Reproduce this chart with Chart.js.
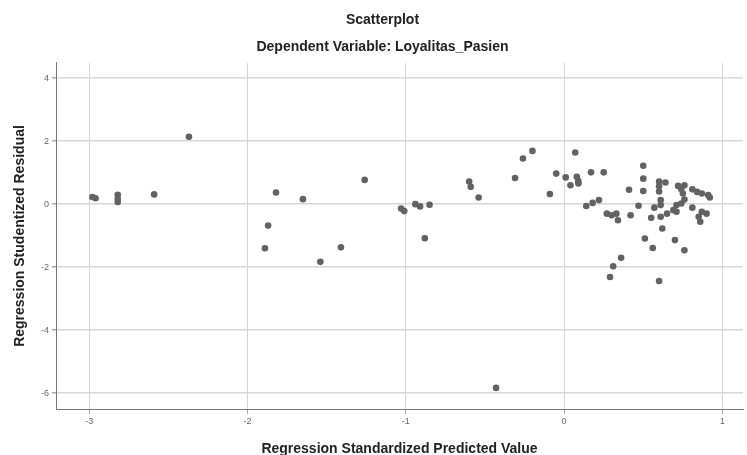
<!DOCTYPE html>
<html lang="id">
<head>
    <meta charset="UTF-8">
    <title>Scatterplot - Loyalitas_Pasien</title>
    <script src="https://cdn.jsdelivr.net/npm/chart.js"></script>
    <style>
        html, body { margin: 0; padding: 0; background: #fff; }
        #scatterChart { display: block; }
    </style>
</head>
<body>
    <canvas id="scatterChart" width="747" height="455"></canvas>

    <script>
    // Data (SPSS)
    const predictedValue = [
        -2.98, -2.96, -2.82, -2.82, -2.82, -2.59, -2.37, -1.82, -1.65, -1.87,
        -1.89, -1.41, -1.54, -1.26, -1.03, -1.01, -0.94, -0.91, -0.85, -0.88,
        -0.60, -0.59, -0.54, -0.31, -0.43, -0.26, -0.20, -0.09, -0.05, 0.01,
        0.04, 0.07, 0.08, 0.09, 0.17, 0.25, 0.14, 0.18, 0.22, 0.27,
        0.30, 0.33, 0.34, 0.36, 0.31, 0.29, 0.41, 0.42, 0.47, 0.50,
        0.50, 0.50, 0.51, 0.56, 0.55, 0.57, 0.60, 0.60, 0.60, 0.60,
        0.61, 0.64, 0.61, 0.62, 0.61, 0.65, 0.69, 0.71, 0.71, 0.70,
        0.76, 0.72, 0.74, 0.75, 0.76, 0.76, 0.74, 0.81, 0.84, 0.87,
        0.91, 0.92, 0.81, 0.87, 0.90, 0.85, 0.86, 0.09
    ];
    const studentizedResidual = [
        0.23, 0.19, 0.30, 0.17, 0.07, 0.31, 2.14, 0.37, 0.16, -0.68,
        -1.40, -1.37, -1.83, 0.77, -0.14, -0.22, 0.00, -0.07, -0.02, -1.08,
        0.72, 0.55, 0.21, 0.83, -5.83, 1.45, 1.69, 0.32, 0.97, 0.85,
        0.60, 1.64, 0.87, 0.66, 1.01, 1.01, -0.06, 0.04, 0.13, -0.30,
        -0.35, -0.30, -0.51, -1.70, -1.97, -2.31, 0.46, -0.35, -0.05, 1.22,
        0.81, 0.42, -1.09, -1.39, -0.43, -0.11, -2.44, 0.72, 0.57, 0.40,
        0.13, 0.69, -0.40, -0.77, -0.03, -0.30, -0.19, -0.03, -0.24, -1.14,
        -1.46, 0.58, 0.48, 0.34, 0.15, 0.60, 0.02, 0.47, 0.39, 0.34,
        0.29, 0.21, -0.11, -0.24, -0.30, -0.40, -0.56, 0.73
    ];
    const xTicks = [-3, -2, -1, 0, 1];
    const yTicks = [-6, -4, -2, 0, 2, 4];

    const points = predictedValue.map((x, i) => ({ x: x, y: studentizedResidual[i] }));

    const fontFamily = '"Liberation Sans", Arial, sans-serif';
    const gridColor = '#d6d6d6';
    const titleFont = { family: fontFamily, size: 14, weight: 'bold' };

    new Chart(document.getElementById('scatterChart'), {
        type: 'scatter',
        data: {
            datasets: [{
                label: 'Loyalitas_Pasien',
                data: points,
                pointRadius: 3.3,
                pointBackgroundColor: '#626262',
                pointBorderColor: '#626262',
                pointBorderWidth: 0
            }]
        },
        options: {
            responsive: false,
            animation: false,
            layout: { padding: { left: 20, right: 2, top: 0, bottom: 0 } },
            scales: {
                x: {
                    type: 'linear',
                    min: -3.21,
                    max: 1.13,
                    afterFit: scale => { scale.height = 46; },
                    afterBuildTicks: scale => { scale.ticks = xTicks.map(v => ({ value: v })); },
                    ticks: { font: { family: fontFamily, size: 9 }, color: '#666', padding: 2 },
                    grid: { color: gridColor, lineWidth: 1, tickLength: 5, tickColor: '#aaa' },
                    border: { display: true, color: '#777', width: 1 },
                    title: {
                        display: true,
                        text: 'Regression Standardized Predicted Value',
                        font: titleFont,
                        color: '#222',
                        padding: { top: 0, bottom: -2.4 }
                    }
                },
                y: {
                    type: 'linear',
                    min: -6.5,
                    max: 4.48,
                    afterFit: scale => { scale.width = 36; },
                    afterBuildTicks: scale => { scale.ticks = yTicks.map(v => ({ value: v })); },
                    ticks: { font: { family: fontFamily, size: 9 }, color: '#666', padding: 3 },
                    grid: { color: gridColor, lineWidth: 1.5, tickLength: 4, tickColor: '#aaa' },
                    border: { display: true, color: '#777', width: 1 },
                    title: {
                        display: true,
                        text: 'Regression Studentized Residual',
                        font: titleFont,
                        color: '#222',
                        padding: { top: -8.4, bottom: 0 }
                    }
                }
            },
            plugins: {
                legend: { display: false },
                tooltip: { enabled: false },
                title: {
                    display: true,
                    text: 'Scatterplot',
                    font: titleFont,
                    color: '#222',
                    padding: { top: 11.6, bottom: 10.2 }
                },
                subtitle: {
                    display: true,
                    text: 'Dependent Variable: Loyalitas_Pasien',
                    font: titleFont,
                    color: '#222',
                    padding: { top: 0, bottom: 7.6 }
                }
            }
        }
    });
    </script>
</body>
</html>
